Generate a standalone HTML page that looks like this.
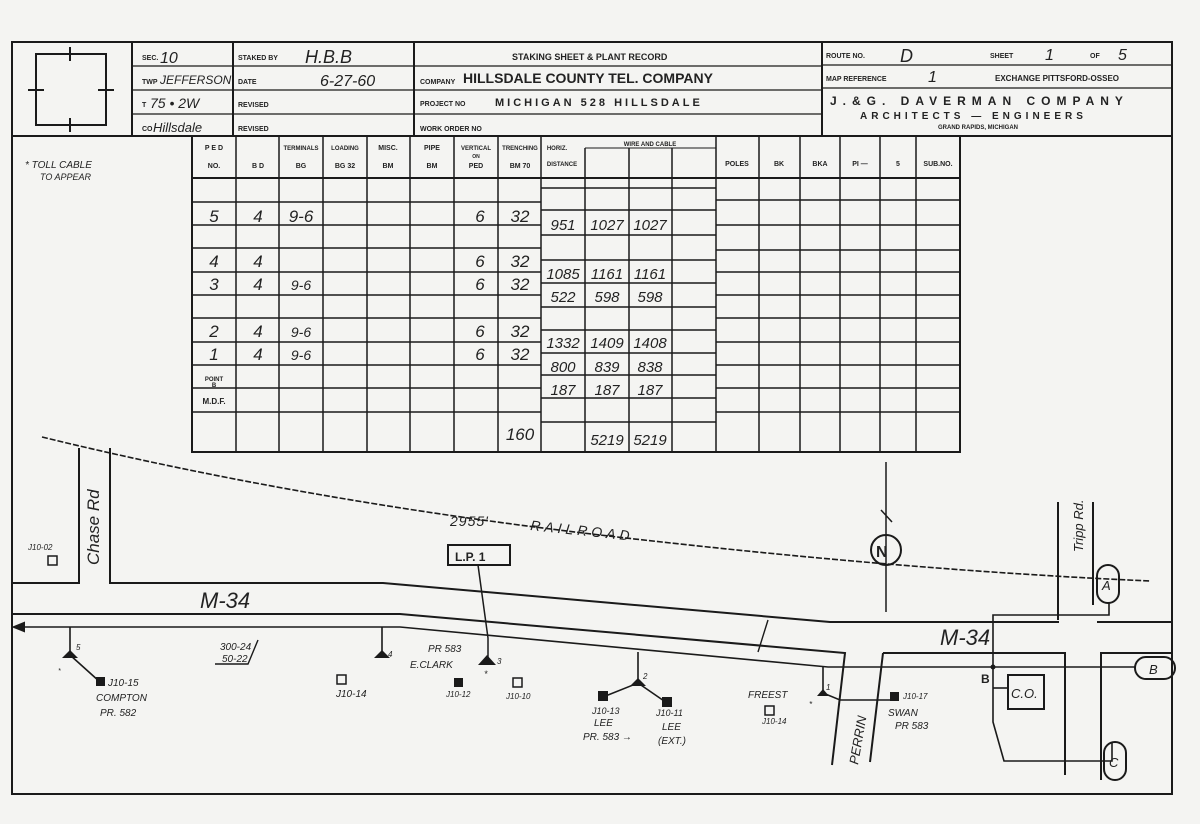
<!DOCTYPE html>
<html><head><meta charset="utf-8"><style>
html,body{margin:0;padding:0;background:#f4f4f2;}
svg{display:block}
.p{font-family:"Liberation Sans",sans-serif;font-weight:bold;fill:#222}
.h{font-family:"Liberation Sans",sans-serif;font-style:italic;fill:#222}
</style></head><body>
<svg width="1200" height="824" viewBox="0 0 1200 824" xmlns="http://www.w3.org/2000/svg">
<rect width="1200" height="824" fill="#f4f4f2"/>
<g stroke="#1a1a1a" fill="none">
<rect x="12" y="42" width="1160" height="752" stroke-width="2"/>
<line x1="12" y1="136" x2="1172" y2="136" stroke-width="2"/>
<line x1="132" y1="42" x2="132" y2="136" stroke-width="2"/>
<line x1="233" y1="42" x2="233" y2="136" stroke-width="2"/>
<line x1="414" y1="42" x2="414" y2="136" stroke-width="2"/>
<line x1="822" y1="42" x2="822" y2="136" stroke-width="2"/>
<line x1="132" y1="66" x2="822" y2="66" stroke-width="1.3"/>
<line x1="132" y1="90" x2="822" y2="90" stroke-width="1.3"/>
<line x1="132" y1="114" x2="822" y2="114" stroke-width="1.3"/>
<line x1="822" y1="65" x2="1172" y2="65" stroke-width="1.3"/>
<line x1="822" y1="88" x2="1172" y2="88" stroke-width="1.3"/>
<rect x="36" y="54" width="70" height="71" stroke-width="2"/>
<line x1="70" y1="47" x2="70" y2="61" stroke-width="2"/><line x1="70" y1="118" x2="70" y2="132" stroke-width="2"/>
<line x1="28" y1="90" x2="44" y2="90" stroke-width="2"/><line x1="98" y1="90" x2="114" y2="90" stroke-width="2"/>
</g>
<g font-size="7" class="p">
<text x="142" y="60">SEC.</text><text x="142" y="84">TWP</text><text x="142" y="107">T</text><text x="142" y="131">CO</text>
<text x="238" y="60">STAKED BY</text><text x="238" y="84">DATE</text><text x="238" y="107">REVISED</text><text x="238" y="131">REVISED</text>
<text x="512" y="60" font-size="9">STAKING SHEET &amp; PLANT RECORD</text>
<text x="420" y="84">COMPANY</text><text x="463" y="83" font-size="14">HILLSDALE COUNTY TEL. COMPANY</text>
<text x="420" y="106">PROJECT NO</text><text x="495" y="106" font-size="11" letter-spacing="3">MICHIGAN    528    HILLSDALE</text>
<text x="420" y="131">WORK ORDER NO</text>
<text x="826" y="58">ROUTE NO.</text><text x="990" y="58">SHEET</text><text x="1090" y="58">OF</text>
<text x="826" y="81">MAP REFERENCE</text><text x="995" y="81" font-size="8">EXCHANGE PITTSFORD-OSSEO</text>
<text x="830" y="105" font-size="12" letter-spacing="6">J.&amp;G. DAVERMAN COMPANY</text>
<text x="860" y="119" font-size="10" letter-spacing="4">ARCHITECTS — ENGINEERS</text>
<text x="938" y="129" font-size="6">GRAND RAPIDS, MICHIGAN</text>
</g>
<g class="h" font-size="16">
<text x="160" y="63">10</text><text x="160" y="84" font-size="12">JEFFERSON</text><text x="150" y="108" font-size="14">75 • 2W</text><text x="153" y="132" font-size="13">Hillsdale</text>
<text x="305" y="63" font-size="18">H.B.B</text><text x="320" y="86">6-27-60</text>
<text x="900" y="62" font-size="18">D</text><text x="1045" y="60">1</text><text x="1118" y="60">5</text><text x="928" y="82">1</text>
<text x="25" y="168" font-size="10">* TOLL CABLE</text><text x="40" y="180" font-size="9">TO APPEAR</text>
</g>
<g stroke="#1a1a1a" fill="none" stroke-width="1.5">
<rect x="192" y="136" width="768" height="316" stroke-width="2"/>
<path d="M236 136V452M279 136V452M323 136V452M367 136V452M410 136V452M454 136V452M498 136V452M541 136V452M585 148V452M629 148V452M672 148V452M716 136V452M759 136V452M800 136V452M840 136V452M880 136V452M916 136V452"/>
<line x1="585" y1="148" x2="716" y2="148" stroke-width="1"/>
<line x1="192" y1="178" x2="960" y2="178" stroke-width="2"/>
<path d="M192 202H541M192 225H541M192 248H541M192 272H541M192 295H541M192 318H541M192 342H541M192 365H541M192 388H541M192 412H541"/>
<path d="M541 188H716M541 210H716M541 235H716M541 260H716M541 283H716M541 307H716M541 330H716M541 353H716M541 375H716M541 398H716M541 422H716"/>
<path d="M716 200H960M716 225H960M716 250H960M716 272H960M716 295H960M716 318H960M716 342H960M716 365H960M716 388H960M716 412H960"/>
</g>
<g class="p" font-size="7" text-anchor="middle">
<text x="214" y="150">P E D</text><text x="214" y="168">NO.</text><text x="258" y="168">B D</text>
<text x="301" y="150" font-size="6">TERMINALS</text><text x="301" y="168">BG</text>
<text x="345" y="150" font-size="6">LOADING</text><text x="345" y="168">BG 32</text>
<text x="388" y="150">MISC.</text><text x="388" y="168">BM</text>
<text x="432" y="150">PIPE</text><text x="432" y="168">BM</text>
<text x="476" y="150" font-size="6">VERTICAL</text><text x="476" y="158" font-size="5">ON</text><text x="476" y="168">PED</text>
<text x="520" y="150" font-size="6">TRENCHING</text><text x="520" y="168">BM 70</text>
<text x="557" y="150" font-size="6">HORIZ.</text><text x="562" y="166" font-size="6">DISTANCE</text>
<text x="650" y="146" font-size="6">WIRE AND CABLE</text>
<text x="737" y="166">POLES</text><text x="779" y="166">BK</text><text x="820" y="166">BKA</text><text x="860" y="166">PI —</text><text x="898" y="166">5</text><text x="938" y="166">SUB.NO.</text>
<text x="214" y="381" font-size="6">POINT</text><text x="214" y="387" font-size="6">B</text><text x="214" y="404" font-size="8">M.D.F.</text>
</g>
<g class="h" font-size="17" text-anchor="middle">
<text x="214" y="222">5</text><text x="258" y="222">4</text><text x="301" y="222">9-6</text><text x="480" y="222">6</text><text x="520" y="222">32</text>
<text x="214" y="267">4</text><text x="258" y="267">4</text><text x="480" y="267">6</text><text x="520" y="267">32</text>
<text x="214" y="290">3</text><text x="258" y="290">4</text><text x="301" y="290" font-size="14">9-6</text><text x="480" y="290">6</text><text x="520" y="290">32</text>
<text x="214" y="337">2</text><text x="258" y="337">4</text><text x="301" y="337" font-size="14">9-6</text><text x="480" y="337">6</text><text x="520" y="337">32</text>
<text x="214" y="360">1</text><text x="258" y="360">4</text><text x="301" y="360" font-size="14">9-6</text><text x="480" y="360">6</text><text x="520" y="360">32</text>
<text x="520" y="440">160</text>
<g font-size="15">
<text x="563" y="230">951</text><text x="607" y="230">1027</text><text x="650" y="230">1027</text>
<text x="563" y="279">1085</text><text x="607" y="279">1161</text><text x="650" y="279">1161</text>
<text x="563" y="302">522</text><text x="607" y="302">598</text><text x="650" y="302">598</text>
<text x="563" y="348">1332</text><text x="607" y="348">1409</text><text x="650" y="348">1408</text>
<text x="563" y="372">800</text><text x="607" y="372">839</text><text x="650" y="372">838</text>
<text x="563" y="395">187</text><text x="607" y="395">187</text><text x="650" y="395">187</text>
<text x="607" y="445">5219</text><text x="650" y="445">5219</text>
</g></g>
<g stroke="#1a1a1a" fill="none" stroke-width="2">
<path d="M42 437 Q 300 500 600 535 T 1150 581" stroke-dasharray="6 2" stroke-width="1.6"/>
<path d="M79 448V583H12M110 448V583H383L830 622H1059M1097 622H1172"/>
<path d="M12 614H400L845 653 832 765"/>
<path d="M22 627H400L828 667H1136" stroke-width="1.6"/>
<path d="M14 627l10-4v8z" fill="#1a1a1a"/>
<path d="M883 653H1065V775M883 653 870 762M1172 653H1101V780"/>
<path d="M1058 502V620M1093 502V605"/>
<path d="M886 462V612M881 510 892 522" stroke-width="1.5"/>
<circle cx="886" cy="550" r="15"/>
<rect x="1097" y="565" width="22" height="38" rx="11"/>
<rect x="1135" y="657" width="40" height="22" rx="11"/>
<rect x="1104" y="742" width="22" height="38" rx="11"/>
<path d="M1109 603V615H993V722L1004 761H1112V742" stroke-width="1.6"/>
<path d="M993 688H1008" stroke-width="1.6"/>
<rect x="1008" y="675" width="36" height="34"/>
<rect x="448" y="545" width="62" height="20"/>
<path d="M478 565 488 638V660" stroke-width="1.5"/>
<path d="M70 627V655L100 682M382 627V655M638 652V683L603 697M638 683 667 703M823 667V693L840 700H896" stroke-width="1.6"/>
<path d="M768 620 758 652M215 664H248L258 640" stroke-width="1.4"/>
<rect x="48" y="556" width="9" height="9" stroke-width="1.5"/>
<rect x="337" y="675" width="9" height="9" stroke-width="1.5"/>
<rect x="513" y="678" width="9" height="9" stroke-width="1.5"/>
<rect x="765" y="706" width="9" height="9" stroke-width="1.5"/>
</g>
<g fill="#1a1a1a">
<path d="M62 658h16l-8-8z"/><path d="M374 658h16l-8-8z"/><path d="M478 665h18l-9-10z"/><path d="M630 686h16l-8-8z"/><path d="M817 696h12l-6-7z"/>
<rect x="96" y="677" width="9" height="9"/><rect x="454" y="678" width="9" height="9"/><rect x="598" y="691" width="10" height="10"/><rect x="662" y="697" width="10" height="10"/><rect x="890" y="692" width="9" height="9"/>
<circle cx="993" cy="667" r="2.5"/>
</g>
<g class="h" font-size="10">
<text x="28" y="550" font-size="8">J10-02</text>
<text x="0" y="0" font-size="17" transform="translate(99 565) rotate(-90)">Chase Rd</text>
<text x="200" y="608" font-size="22">M-34</text>
<text x="450" y="526" font-size="14" letter-spacing="1">2955'</text>
<text x="530" y="530" font-size="14" letter-spacing="4" transform="rotate(6 530 530)">RAILROAD</text>
<text x="455" y="561" font-size="12" class="p" style="font-style:normal">L.P. 1</text>
<text x="940" y="645" font-size="22">M-34</text>
<text x="876" y="557" font-size="16" class="p" style="font-style:normal">N</text>
<text x="1102" y="590" font-size="13">A</text><text x="1149" y="674" font-size="13">B</text><text x="1109" y="767" font-size="13">C</text>
<text x="981" y="683" font-size="12" class="p" style="font-style:normal">B</text>
<text x="1011" y="698" font-size="13">C.O.</text>
<text x="0" y="0" font-size="13" transform="translate(1083 552) rotate(-90)">Tripp Rd.</text>
<text x="0" y="0" font-size="13" transform="translate(858 765) rotate(-80)">PERRIN</text>
<text x="76" y="650" font-size="8">5</text><text x="58" y="673" font-size="7">*</text>
<text x="108" y="686">J10-15</text><text x="96" y="701">COMPTON</text><text x="100" y="716">PR. 582</text>
<text x="220" y="650" font-size="10">300-24</text><text x="222" y="662" font-size="10">50-22</text>
<text x="388" y="657" font-size="8">4</text><text x="336" y="697">J10-14</text>
<text x="428" y="652">PR 583</text><text x="410" y="668">E.CLARK</text><text x="497" y="664" font-size="8">3</text><text x="484" y="677" font-size="9">*</text>
<text x="446" y="697" font-size="8">J10-12</text><text x="506" y="699" font-size="8">J10-10</text>
<text x="643" y="679" font-size="8">2</text>
<text x="592" y="714" font-size="9">J10-13</text><text x="594" y="726">LEE</text><text x="583" y="740">PR. 583 →</text>
<text x="656" y="716" font-size="9">J10-11</text><text x="662" y="730">LEE</text><text x="658" y="744">(EXT.)</text>
<text x="748" y="698">FREEST</text><text x="809" y="707" font-size="8">*</text><text x="762" y="724" font-size="8">J10-14</text><text x="826" y="690" font-size="8">1</text>
<text x="903" y="699" font-size="8">J10-17</text><text x="888" y="716">SWAN</text><text x="895" y="729">PR 583</text>
</g>
</svg>
</body></html>
